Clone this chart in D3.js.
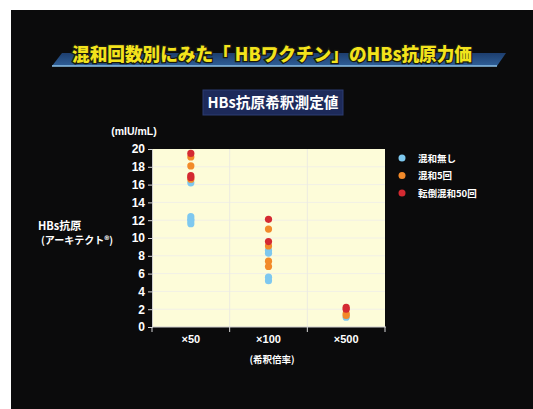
<!DOCTYPE html>
<html>
<head>
<meta charset="utf-8">
<script src="https://cdn.jsdelivr.net/npm/d3@7/dist/d3.min.js"></script>
<style>
  html, body { margin: 0; padding: 0; background: #ffffff; }
  svg { display: block; }
  text { font-family: "Noto Sans CJK JP", "Noto Sans", sans-serif; }
</style>
</head>
<body>
<svg id="chart" width="533" height="409"></svg>
<script>
// Dilution factors on the x axis
const dilutions = ["×50", "×100", "×500"];
// Mixing conditions (legend order)
const series = ["混和無し", "混和5回", "転倒混和50回"];
const seriesColors = ["#7ec8ef", "#f28a2a", "#d42a32"];
// Measured HBs antigen (mIU/mL) per dilution, one list per condition
const noMixing = [
  [16.2, 12.4, 12.1, 11.9, 11.6],
  [8.6, 8.3, 5.6, 5.2],
  [1.1]
];
const mix5 = [
  [19.1, 18.1, 16.6],
  [11.0, 9.1, 7.4, 6.8],
  [1.5, 1.3]
];
const invert50 = [
  [19.5, 17.0, 16.8],
  [12.1, 9.6],
  [2.2, 2.0]
];
const yTicks = [0, 2, 4, 6, 8, 10, 12, 14, 16, 18, 20];

const svg = d3.select("#chart");
const W = 533, H = 409;

// dark slide panel with the white margin at top/left
svg.append("rect").attr("x", 0).attr("y", 0).attr("width", W).attr("height", H).attr("fill", "#ffffff");
svg.append("rect").attr("x", 11).attr("y", 10).attr("width", W - 11).attr("height", H - 10).attr("fill", "#0b0b0c");

// title banner
const defs = svg.append("defs");
const bg = defs.append("linearGradient").attr("id", "banner").attr("x1", 0).attr("y1", 0).attr("x2", 0).attr("y2", 1);
bg.append("stop").attr("offset", "0%").attr("stop-color", "#1d3e6e");
bg.append("stop").attr("offset", "100%").attr("stop-color", "#2f5f98");
svg.append("path")
  .attr("d", "M62,53 L506,53 L497,66 L52,66 Z")
  .attr("fill", "url(#banner)");
svg.append("line").attr("x1", 52).attr("x2", 497).attr("y1", 66).attr("y2", 66)
  .attr("stroke", "#8ec3ea").attr("stroke-width", 1.5);
svg.append("text")
  .attr("x", 272).attr("y", 61)
  .attr("text-anchor", "middle")
  .attr("font-size", 18).attr("font-weight", 900)
  .attr("fill", "#f3e31c")
  .attr("stroke", "#1a1a10").attr("stroke-width", 2.5).attr("paint-order", "stroke")
  .attr("textLength", 400).attr("lengthAdjust", "spacingAndGlyphs")
  .text("混和回数別にみた「 HBワクチン」のHBs抗原力価");

// subtitle box
svg.append("rect").attr("x", 203).attr("y", 90).attr("width", 140).attr("height", 25)
  .attr("fill", "#1d2a5a").attr("stroke", "#2c3c72").attr("stroke-width", 1);
svg.append("text")
  .attr("x", 273).attr("y", 108)
  .attr("text-anchor", "middle")
  .attr("font-size", 15).attr("font-weight", 700)
  .attr("fill", "#ffffff")
  .attr("textLength", 131).attr("lengthAdjust", "spacingAndGlyphs")
  .text("HBs抗原希釈測定値");

// plot area
const plot = { left: 152, right: 385, top: 149, bottom: 327 };
const x = d3.scaleBand().domain(dilutions).range([plot.left, plot.right]);
const y = d3.scaleLinear().domain([0, 20]).range([plot.bottom, plot.top]);

svg.append("rect")
  .attr("x", plot.left).attr("y", plot.top)
  .attr("width", plot.right - plot.left).attr("height", plot.bottom - plot.top)
  .attr("fill", "#fdfcd9");

// faint grid lines
svg.append("g").selectAll("line").data(yTicks.filter(d => d > 0 && d < 20)).join("line")
  .attr("x1", plot.left).attr("x2", plot.right)
  .attr("y1", d => y(d)).attr("y2", d => y(d))
  .attr("stroke", "#f1f0e6").attr("stroke-width", 1);
svg.append("g").selectAll("line").data(dilutions.slice(1)).join("line")
  .attr("x1", d => x(d)).attr("x2", d => x(d))
  .attr("y1", plot.top).attr("y2", plot.bottom)
  .attr("stroke", "#ecebe0").attr("stroke-width", 1);

// y axis
const yAxis = svg.append("g")
  .attr("transform", `translate(${plot.left},0)`)
  .call(d3.axisLeft(y).tickValues(yTicks).tickSize(4).tickPadding(3));
yAxis.select(".domain").attr("stroke", "#cfcfcf");
yAxis.selectAll(".tick line").attr("stroke", "#d8d8d8");
yAxis.selectAll(".tick text")
  .attr("fill", "#ffffff").attr("font-size", 12).attr("font-weight", 700)
  .style("font-family", "'Liberation Sans', Arial, sans-serif");

// x axis: ticks at band edges, labels at band centres
const xAxisG = svg.append("g").attr("transform", `translate(0,${plot.bottom})`);
xAxisG.append("line").attr("x1", plot.left).attr("x2", plot.right + 1)
  .attr("stroke", "#cfcfcf");
const edges = dilutions.map(d => x(d)).concat([x(dilutions[dilutions.length - 1]) + x.bandwidth()]);
xAxisG.selectAll("line.edge").data(edges).join("line")
  .attr("class", "edge")
  .attr("x1", d => d).attr("x2", d => d).attr("y1", 0).attr("y2", 5)
  .attr("stroke", "#d8d8d8");
xAxisG.selectAll("text").data(dilutions).join("text")
  .attr("x", d => x(d) + x.bandwidth() / 2).attr("y", 16)
  .attr("text-anchor", "middle")
  .attr("fill", "#ffffff").attr("font-size", 11).attr("font-weight", 700)
  .style("font-family", "'Liberation Sans', Arial, sans-serif")
  .text(d => d);

// axis titles
svg.append("text").attr("x", 134).attr("y", 135).attr("text-anchor", "middle")
  .attr("fill", "#ffffff").attr("font-size", 10.5).attr("font-weight", 700)
  .style("font-family", "'Liberation Sans', Arial, sans-serif")
  .text("(mIU/mL)");
svg.append("text").attr("x", 272).attr("y", 363).attr("text-anchor", "middle")
  .attr("fill", "#ffffff").attr("font-size", 9.5).attr("font-weight", 700)
  .text("(希釈倍率)");
svg.append("text").attr("x", 38).attr("y", 230)
  .attr("fill", "#ffffff").attr("font-size", 11).attr("font-weight", 700)
  .text("HBs抗原");
svg.append("text").attr("x", 41).attr("y", 244)
  .attr("fill", "#ffffff").attr("font-size", 10).attr("font-weight", 700)
  .text("(アーキテクト®)");

// scatter points: draw in legend order so red sits on top
const dataSets = [noMixing, mix5, invert50];
const points = [];
dataSets.forEach((set, si) => {
  set.forEach((vals, di) => {
    vals.forEach(v => points.push({ s: si, d: dilutions[di], v }));
  });
});
svg.append("g").selectAll("circle").data(points).join("circle")
  .attr("cx", p => x(p.d) + x.bandwidth() / 2)
  .attr("cy", p => y(p.v))
  .attr("r", 3.6)
  .attr("fill", p => seriesColors[p.s]);

// legend
const lg = svg.append("g").attr("transform", "translate(402,158)");
series.forEach((s, i) => {
  const row = lg.append("g").attr("transform", `translate(0,${i * 17.5})`);
  row.append("circle").attr("r", 3.5).attr("fill", seriesColors[i]);
  row.append("text").attr("x", 16).attr("y", 3.5)
    .attr("fill", "#ffffff").attr("font-size", 9.5).attr("font-weight", 700)
    .text(s);
});
</script>
</body>
</html>
